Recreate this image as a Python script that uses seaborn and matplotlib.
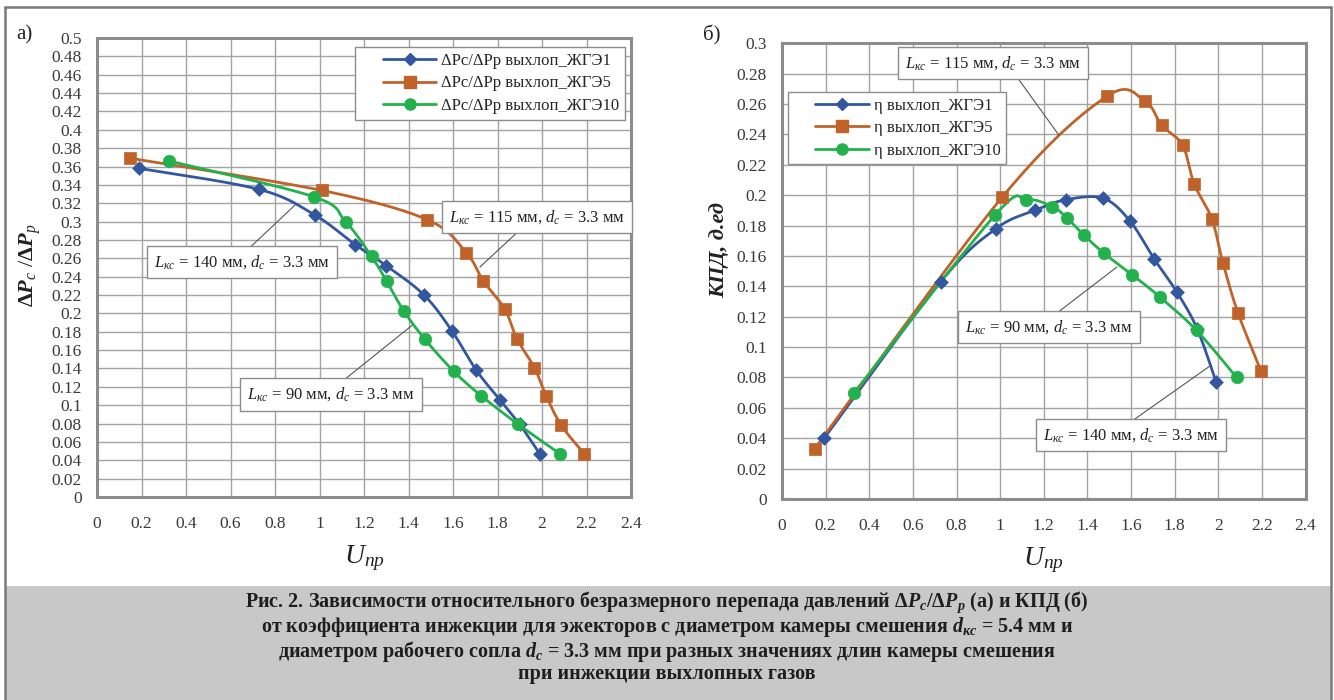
import numpy as np
import pandas as pd
import matplotlib
matplotlib.use("Agg")
import matplotlib.pyplot as plt
from matplotlib.lines import Line2D
from matplotlib.patches import Rectangle
from matplotlib.legend_handler import HandlerLine2D
import seaborn as sns

# ---------------- data ----------------
series_names = ["ЖГЭ1", "ЖГЭ5", "ЖГЭ10"]

# (а) dPc/dPp vs U
a_x_zge1 = [0.19, 0.73, 0.98, 1.16, 1.30, 1.47, 1.595, 1.705, 1.81, 1.90, 1.99]
a_y_zge1 = [0.358, 0.335, 0.307, 0.275, 0.252, 0.220, 0.181, 0.138, 0.106, 0.079, 0.047]
a_x_zge5 = [0.15, 1.01, 1.485, 1.66, 1.737, 1.832, 1.888, 1.966, 2.019, 2.087, 2.19]
a_y_zge5 = [0.369, 0.334, 0.302, 0.266, 0.235, 0.205, 0.172, 0.141, 0.110, 0.078, 0.047]
a_x_zge10 = [0.325, 0.975, 1.117, 1.234, 1.302, 1.378, 1.473, 1.603, 1.728, 1.894, 2.081]
a_y_zge10 = [0.366, 0.327, 0.300, 0.262, 0.235, 0.203, 0.172, 0.137, 0.110, 0.079, 0.047]

# (б) efficiency vs U
b_x_zge1 = [0.193, 0.727, 0.981, 1.159, 1.30, 1.472, 1.595, 1.706, 1.811, 1.903, 1.99]
b_y_zge1 = [0.040, 0.143, 0.178, 0.190, 0.197, 0.198, 0.183, 0.158, 0.136, 0.112, 0.077]
b_x_zge5 = [0.149, 1.008, 1.488, 1.663, 1.74, 1.836, 1.889, 1.97, 2.021, 2.09, 2.195]
b_y_zge5 = [0.033, 0.1985, 0.265, 0.262, 0.246, 0.233, 0.2075, 0.1845, 0.1555, 0.1225, 0.0845]
b_x_zge10 = [0.331, 0.977, 1.119, 1.239, 1.306, 1.382, 1.474, 1.606, 1.732, 1.90, 2.084]
b_y_zge10 = [0.070, 0.187, 0.197, 0.1925, 0.185, 0.174, 0.162, 0.1475, 0.133, 0.111, 0.080]

x_ticks = [0, 0.2, 0.4, 0.6, 0.8, 1, 1.2, 1.4, 1.6, 1.8, 2, 2.2, 2.4]
a_y_ticks = [round(0.02 * i, 2) for i in range(26)]
b_y_ticks = [round(0.02 * i, 2) for i in range(16)]

colors = ["#33579f", "#c0632b", "#22b14c"]
markers = ["D", "s", "o"]
msizes = [7, 9, 9]

# ---------------- style ----------------
sns.set_style("white")
plt.rcParams["font.family"] = ["Liberation Serif", "DejaVu Serif"]
plt.rcParams["mathtext.fontset"] = "custom"
plt.rcParams["mathtext.rm"] = "Liberation Serif"
plt.rcParams["mathtext.it"] = "Liberation Serif:italic"
plt.rcParams["mathtext.bf"] = "Liberation Serif:bold"
plt.rcParams["mathtext.bfit"] = "Liberation Serif:bold:italic"

W, H = 1334, 700
fig = plt.figure(figsize=(W / 100, H / 100), dpi=100)

# frame and caption band
fig.patches.append(Rectangle((6 / W, 0), (1331 - 6) / W, (700 - 586) / H,
                             transform=fig.transFigure, facecolor="#c8c8c8",
                             edgecolor="none", zorder=0))
for (x0, y0, x1, y1) in [(5, 700, 5, 7), (5, 7, 1331, 7), (1331, 7, 1331, 700)]:
    fig.lines.append(Line2D([x0 / W, x1 / W], [1 - y0 / H, 1 - y1 / H],
                            transform=fig.transFigure, color="#7a7a7a", lw=1.8))

ax_a = fig.add_axes([97 / W, 1 - 497 / H, (631 - 97) / W, (497 - 38) / H])
ax_b = fig.add_axes([782 / W, 1 - 499 / H, (1305.6 - 782) / W, (499 - 43.3) / H])


def smooth(xs, ys, sx, sy, n=30):
    """Excel-like smoothed curve (cubic Bezier, Catmull-Rom control points)."""
    P = np.column_stack([np.asarray(xs) * sx, np.asarray(ys) * sy])
    out = []
    m = len(P)
    for i in range(m - 1):
        p0 = P[i - 1] if i > 0 else P[i]
        p1, p2 = P[i], P[i + 1]
        p3 = P[i + 2] if i + 2 < m else P[i + 1]
        c1 = p1 + (p2 - p0) / 6
        c2 = p2 - (p3 - p1) / 6
        t = np.linspace(0, 1, n)[:, None]
        seg = ((1 - t) ** 3) * p1 + 3 * ((1 - t) ** 2) * t * c1 + 3 * (1 - t) * t ** 2 * c2 + t ** 3 * p2
        out.append(seg if i == 0 else seg[1:])
    c = np.vstack(out)
    return c[:, 0] / sx, c[:, 1] / sy


def draw(ax, xs_list, ys_list, sx, sy, labels, ylim, yticks, legend_kw):
    for k, (xs, ys) in enumerate(zip(xs_list, ys_list)):
        cx, cy = smooth(xs, ys, sx, sy)
        sns.lineplot(x=cx, y=cy, sort=False, estimator=None, ax=ax,
                     color=colors[k], lw=2.0, zorder=3)
        sns.scatterplot(x=xs, y=ys, ax=ax, marker=markers[k], s=msizes[k] ** 2,
                        color=colors[k], edgecolor=colors[k], linewidth=0.5, zorder=4)
    ax.set_xlim(0, 2.4)
    ax.set_ylim(*ylim)
    ax.set_xticks(x_ticks)
    ax.set_xticklabels([f"{v:g}" for v in x_ticks], family="Liberation Serif")
    ax.set_yticks(yticks)
    ax.set_yticklabels([f"{v:g}" for v in yticks], family="Liberation Serif")
    ax.grid(True, color="#a3a3a3", lw=1.0)
    ax.set_axisbelow(True)
    for s in ax.spines.values():
        s.set_color("#8c8c8c")
        s.set_linewidth(2.2)
        s.set_visible(True)
    ax.tick_params(axis="both", length=0, labelsize=12.5, colors="#3a3a3a")
    ax.tick_params(axis="y", pad=11)
    ax.tick_params(axis="x", pad=14)
    handles = [Line2D([0], [0], color=colors[k], lw=2.0, marker=markers[k],
                      markersize=msizes[k] - 1, markeredgecolor=colors[k])
               for k in range(3)]
    leg = ax.legend(handles, labels, frameon=True, fancybox=False, framealpha=1,
                    edgecolor="#8c8c8c", fontsize=12, handlelength=4.5,
                    handletextpad=0.3, borderpad=0.35, labelspacing=0.38,
                    borderaxespad=0,
                    handler_map={Line2D: HandlerLine2D(xpad=1.3)}, **legend_kw)
    leg.get_frame().set_linewidth(1.0)
    leg.set_zorder(6)


draw(ax_a, [a_x_zge1, a_x_zge5, a_x_zge10], [a_y_zge1, a_y_zge5, a_y_zge10],
     222.5, 918, [f"ΔPc/ΔPp выхлоп_{n}" for n in series_names], (0, 0.5), a_y_ticks,
     dict(loc="upper right", bbox_to_anchor=(0.989, 0.980)))
draw(ax_b, [b_x_zge1, b_x_zge5, b_x_zge10], [b_y_zge1, b_y_zge5, b_y_zge10],
     218.2, 1519, [f"η выхлоп_{n}" for n in series_names], (0, 0.3), b_y_ticks,
     dict(loc="upper left", bbox_to_anchor=(0.011, 0.893)))

ax_a.set_xlabel(r"$\mathit{U}_{\mathit{пр}}$", fontsize=20, labelpad=8, color="#222222")
ax_b.set_xlabel(r"$\mathit{U}_{\mathit{пр}}$", fontsize=20, labelpad=8, color="#222222")
fig.text(30 / W, 1 - 265 / H, r"$\mathbf{\Delta}\mathbfit{P}_{\mathit{c}}$ /$\mathbf{\Delta}\mathbfit{P}_{\mathit{p}}$",
         rotation=90, ha="center", va="center", fontsize=16, color="#222222")
fig.text(719 / W, 1 - 250 / H, "КПД, д.ед", rotation=90, ha="center", va="center",
         fontsize=16, fontweight="bold", fontstyle="italic", color="#222222")
fig.text(24 / W, 1 - 35 / H, "а)", ha="center", va="center", fontsize=15, color="#222222")
fig.text(712 / W, 1 - 35 / H, "б)", ha="center", va="center", fontsize=15, color="#222222")


def note(ax, text, center, p_from, p_to):
    ax.annotate("", xy=p_to, xytext=p_from, xycoords="data",
                arrowprops=dict(arrowstyle="-", color="#555555", lw=0.8,
                                shrinkA=0, shrinkB=0), zorder=5)
    ax.text(center[0], center[1], text, ha="center", va="center", fontsize=12,
            color="#222222", zorder=6,
            bbox=dict(boxstyle="square,pad=0.45", facecolor="white",
                      edgecolor="#8c8c8c", lw=1.0))


def lab(L):
    return r"$\mathit{L}_{\mathit{кс}}$ = " + L + r" мм, $\mathit{d}_{\mathit{c}}$ = 3.3 мм"


note(ax_a, lab("140"), (0.652, 0.256), (0.688, 0.272), (0.89, 0.318))
note(ax_a, lab("115"), (1.978, 0.305), (1.901, 0.291), (1.721, 0.2505))
note(ax_a, lab("90"), (1.052, 0.112), (1.110, 0.1275), (1.416, 0.187))
note(ax_b, lab("115"), (0.967, 0.287), (1.077, 0.2778), (1.269, 0.2396))
note(ax_b, lab("90"), (1.224, 0.1132), (1.260, 0.1224), (1.535, 0.1527))
note(ax_b, lab("140"), (1.600, 0.0421), (1.604, 0.0513), (1.962, 0.0876))

caption = [
    r"Рис. 2. Зависимости относительного безразмерного перепада давлений Δ$\mathbfit{P}_{\mathbfit{c}}$/Δ$\mathbfit{P}_{\mathbfit{p}}$ (а) и КПД (б)",
    r"от коэффициента инжекции для эжекторов с диаметром камеры смешения $\mathbfit{d}_{\mathbfit{кс}}$ = 5.4 мм и",
    r"диаметром рабочего сопла $\mathbfit{d}_{\mathbfit{c}}$ = 3.3 мм при разных значениях длин камеры смешения",
    "при инжекции выхлопных газов",
]
fig.text(0.5, 1 - 637 / H, "\n".join(caption), ha="center", va="center",
         multialignment="center", linespacing=1.0,
         fontsize=14.5, fontweight="bold", color="#1e1e1e")

fig.savefig("out.png", dpi=100)
